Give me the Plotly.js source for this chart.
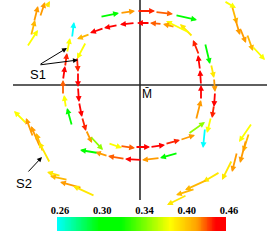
<!DOCTYPE html>
<html><head><meta charset="utf-8">
<script src="https://cdn.plot.ly/plotly-3.0.1.min.js"></script>
<style>html,body{margin:0;padding:0;background:#fff}#chart{width:274px;height:240px}</style>
</head><body><div id="chart"></div>
<script>
// ---- data: arrow tails (x, y), vector components (u, v), colour value s ----
const arrowX = [-68,-74,-77,-77,-75,-73,-68, -40,-20,-3,15,35, 65,71,74,75,74,71,65, 38,20,2,-15,-32,-42,
  53,50,35,22,10,-5,-22,-36,-50, -54,-63,-62,-62,-61,-58,-54,-50, -32,-20,-5,10,25,40,48, 56,61,61,60,59,
  -113,-109,-106,-100,-94, 84,92,95,100,107,112, 112,109,106,97,92,80,67,55,47, -113,-107,-100,-97,-90,-79,-72,-58,-45];
const arrowY = [-41,-23,-10,5,18,32,47, 68,72,74,73,70, 42,21,7,-7,-20,-32,-43, -68,-73,-75,-74,-71,-68,
  48,52,58,61,62,62,60,57,51, 43,28,13,-2,-17,-32,-45,-51, -58,-61,-62,-62,-59,-55,-49, -35,-15,0,15,30,
  38,49,63,68,77, 84,79,67,57,51,39, -38,-48,-55,-67,-75,-87,-95,-104,-110, -39,-52,-62,-67,-78,-91,-95,-103,-111];
const arrowU = [-5,-2,0,2,2,3,2, 19,15,18,18,22, 5,3,1,-1,-2,-4,-2, -18,-18,-17,-17,-13,-18,
  -13,-24,-12,-12,-13,-15,-14,-14,-13, -9,1,0,1,3,4,6,13, 14,15,15,15,15,15,17, 5,0,-1,-2,-6,
  11,4,4,5,4, 12,5,5,6,6,13, -13,-6,-6,-5,-10,-17,-22,-19,-20, -13,-7,-9,-7,-11,-14,-18,-22,-22];
const arrowV = [18,13,15,14,14,15,16, 4,2,0,-2,-5, -21,-14,-14,-15,-13,-16,-20, -5,-2,1,3,4,3,
  13,12,3,1,0,-1.5,-3,-5,-5, -17,-15,-15,-15,-15,-14,-13,-14, -5,-2,0,2,4,5,12, 20,15,15,15,15,
  17,16,16,15,7, -7,-18,-17,-15,-17,-14, -19,-19,-23,-20,-20,-10,-10,-6,-10, 13,19,21,19,21,4,4,6,10];
const arrowS = [0.31,0.38,0.43,0.45,0.44,0.38,0.26, 0.31,0.42,0.44,0.43,0.31, 0.31,0.39,0.42,0.45,0.44,0.38,0.26, 0.31,0.42,0.45,0.43,0.42,0.31,
  0.39,0.38,0.42,0.43,0.45,0.46,0.45,0.45,0.41, 0.38,0.44,0.45,0.45,0.45,0.44,0.42,0.35, 0.38,0.43,0.45,0.45,0.44,0.42,0.35, 0.42,0.45,0.46,0.46,0.44,
  0.38,0.41,0.42,0.42,0.39, 0.38,0.41,0.42,0.42,0.41,0.38, 0.38,0.41,0.42,0.42,0.39,0.39,0.41,0.41,0.39, 0.38,0.42,0.42,0.41,0.39,0.39,0.41,0.42,0.39];

const cbTickValues = [0.26, 0.30, 0.34, 0.40, 0.46];
const cbTickText = ['0.26', '0.30', '0.34', '0.40', '0.46'];
const cbTickPos = [0, 0.25, 0.5, 0.75, 1];
const colorStops = [[0,'#00ffff'],[0.25,'#00ff00'],[0.38,'#00ff00'],[0.67,'#ffff00'],[0.83,'#ffa000'],[0.94,'#ff0000'],[1,'#ff0000']];

const labelText = ['S1', 'S2', 'M\u0304'];
const labelX = [-102, -116, 7];
const labelY = [11, -98, -9];
// pointer arrows: tail -> head
const pointerX0 = [-101, -101, -113];
const pointerY0 = [20, 20, -88];
const pointerX1 = [-73, -62, -98];
const pointerY1 = [37, 25, -72];

const axisHalfX = 127, axisTopY = 85, axisBottomY = -115;

// ---- helpers ----
function valueToFrac(v){
  const t = cbTickValues, p = cbTickPos;
  if (v <= t[0]) return 0;
  for (let i = 1; i < t.length; i++) {
    if (v <= t[i]) return p[i-1] + (v - t[i-1]) / (t[i] - t[i-1]) * (p[i] - p[i-1]);
  }
  return 1;
}
function hex(c){ return [parseInt(c.slice(1,3),16), parseInt(c.slice(3,5),16), parseInt(c.slice(5,7),16)]; }
function fracToColor(f){
  for (let i = 1; i < colorStops.length; i++) {
    if (f <= colorStops[i][0]) {
      const a = colorStops[i-1], b = colorStops[i];
      const t = (b[0] - a[0]) ? (f - a[0]) / (b[0] - a[0]) : 0;
      const ca = hex(a[1]), cb = hex(b[1]);
      return 'rgb(' + ca.map((v,k) => Math.round(v + (cb[k]-v)*t)).join(',') + ')';
    }
  }
  return colorStops[colorStops.length-1][1];
}

const annotations = [];
for (let i = 0; i < arrowX.length; i++) {
  annotations.push({
    xref:'x', yref:'y', axref:'x', ayref:'y',
    x: arrowX[i] + arrowU[i], y: arrowY[i] + arrowV[i],
    ax: arrowX[i], ay: arrowY[i],
    text:'', showarrow:true, arrowhead:2, arrowsize:0.65, arrowwidth:1.8,
    arrowcolor: fracToColor(valueToFrac(arrowS[i])), standoff:0
  });
}
for (let i = 0; i < pointerX0.length; i++) {
  annotations.push({
    xref:'x', yref:'y', axref:'x', ayref:'y',
    x: pointerX1[i], y: pointerY1[i], ax: pointerX0[i], ay: pointerY0[i],
    text:'', showarrow:true, arrowhead:2, arrowsize:1, arrowwidth:1, arrowcolor:'#000'
  });
}
for (let i = 0; i < labelText.length; i++) {
  annotations.push({
    xref:'x', yref:'y', x: labelX[i], y: labelY[i], text: labelText[i], showarrow:false,
    font:{family:'Liberation Sans, Arial, sans-serif', size: i === 2 ? 12 : 13, color:'#000'}
  });
}

// colour bar as a heatmap strip
const nCells = 200;
const cbEdges = [], cbZ = [];
for (let i = 0; i <= nCells; i++) cbEdges.push(i / nCells);
for (let i = 0; i < nCells; i++) cbZ.push((i + 0.5) / nCells);

const traces = [
  {type:'scatter', mode:'markers', x: arrowX, y: arrowY, marker:{size:1, opacity:0}, hoverinfo:'skip', xaxis:'x', yaxis:'y'},
  {type:'heatmap', x: cbEdges, y:[0,1], z:[cbZ], xaxis:'x2', yaxis:'y2', colorscale: colorStops, zmin:0, zmax:1, showscale:false, hoverinfo:'skip'}
];

const layout = {
  width:274, height:240, margin:{l:0, r:0, t:0, b:0},
  paper_bgcolor:'#ffffff', plot_bgcolor:'rgba(0,0,0,0)', showlegend:false,
  xaxis:{domain:[0,1], range:[-140,134], visible:false},
  yaxis:{domain:[0.125,1], range:[-125,85], visible:false},
  xaxis2:{domain:[0.208,0.825], range:[0,1], anchor:'y2', side:'top',
    tickmode:'array', tickvals: cbTickPos, ticktext: cbTickText, ticks:'', ticklen:0,
    showgrid:false, zeroline:false, showline:false, ticklabelshift:3, ticklabelstandoff:0,
    tickfont:{family:'Liberation Serif', size:10.5, color:'#000', weight:700}},
  yaxis2:{domain:[0.0375,0.0958], range:[0,1], anchor:'x2', visible:false},
  shapes:[
    {type:'line', xref:'x', yref:'y', x0:-axisHalfX, x1:axisHalfX, y0:0, y1:0, line:{color:'#2a2a2a', width:1.6}, layer:'below'},
    {type:'line', xref:'x', yref:'y', x0:0, x1:0, y0:axisBottomY, y1:axisTopY, line:{color:'#2a2a2a', width:1.6}, layer:'below'}
  ],
  annotations: annotations
};

Plotly.newPlot('chart', traces, layout, {staticPlot:true, displayModeBar:false});
</script></body></html>
